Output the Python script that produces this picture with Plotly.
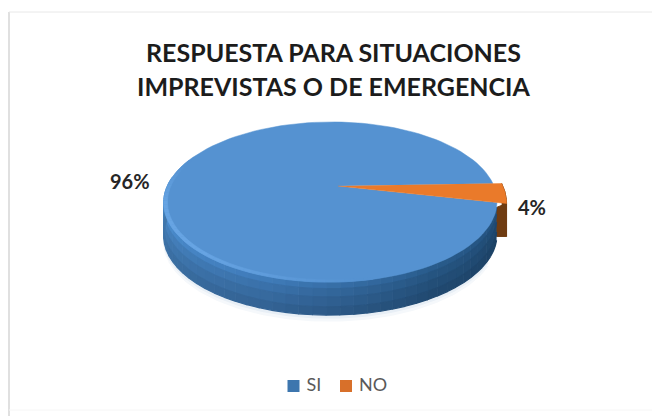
import math
import plotly.graph_objects as go

categories = ["SI", "NO"]
values = [96, 4]
title_lines = ["RESPUESTA PARA SITUACIONES", "IMPREVISTAS O DE EMERGENCIA"]

FACE = {"SI": "#5592d1", "NO": "#ea7a2a"}
LEGEND = {"SI": "#3d76ae", "NO": "#d8702a"}
FONT = "Lato"

# Projection of the unit disc onto the page (perspective tilt)
CX, CY = 338, 186
SX, SY = 163, 76.8
K, M = 0.2, 0.045
DEPTH = 33
ROTATION = 102.4
EXPLODE = 1.06

# Wall colour along the arc: angle clockwise from the top -> RGB
WALL_STOPS = [(102, (30, 70, 108)), (150, (36, 80, 122)), (200, (56, 108, 162)),
              (240, (64, 120, 176)), (276, (74, 134, 192))]
# Bands down the wall: top offset, bottom offset, brightness
BANDS = [(0.0, 0.2, 1.14), (0.2, 0.45, 1.05), (0.45, 0.75, 0.98), (0.75, 1.0, 0.92)]


def project(angle, r=1.0):
    a = math.radians(angle)
    X, Y = r * math.sin(a), r * math.cos(a)
    w = 1 + K * Y + M * X
    return CX + SX * X / w, CY - SY * Y / w


def arc(a0, a1, r=1.0, steps=120):
    pts = [project(a0 + (a1 - a0) * i / steps, r) for i in range(steps + 1)]
    return [p[0] for p in pts], [p[1] for p in pts]


def wall_color(angle):
    for (a0, c0), (a1, c1) in zip(WALL_STOPS, WALL_STOPS[1:]):
        if angle <= a1:
            t = max(0, (angle - a0) / (a1 - a0))
            return tuple(c0[i] + (c1[i] - c0[i]) * t for i in range(3))
    return WALL_STOPS[-1][1]


def rgb(c):
    return "rgb(%d,%d,%d)" % tuple(min(255, v) for v in c)


def poly(xs, ys, color, width=1):
    return go.Scatter(x=xs, y=ys, mode="lines", fill="toself", fillcolor=color,
                      line=dict(color=color, width=width), hoverinfo="skip", showlegend=False)


fig = go.Figure()

# Sweep of each slice, clockwise from the top
total = sum(values)
spans = {}
start = ROTATION
for name, v in zip(categories, values):
    spans[name] = (start, start + 360 * v / total)
    start += 360 * v / total
si0, si1 = spans["SI"]
no0, no1 = spans["NO"]

# Soft halo under the disc
for off, col in ((6, "#f5f8fb"), (3, "#e8eff6")):
    xs, ys = arc(120, 270, 1.0)
    fig.add_trace(poly(xs, [y + DEPTH + off for y in ys], col))

# Wall of the small slice, closed off flat underneath
WALL_JOIN = 106
xa, ya = arc(no0, no1, EXPLODE, 20)
xj, yj = project(WALL_JOIN, 1.0)
floor = ya[-1] + DEPTH
fig.add_trace(poly(xa + xa[::-1], ya + [y + DEPTH for y in ya[::-1]], "#6f3c12"))
fig.add_trace(poly([xa[-1], xj, xj, xa[-1]], [ya[-1], yj, floor, floor], "#6f3c12"))

# Curved wall of the large slice, in strips along the arc and bands down the wall
N = 44
a_start, a_end = WALL_JOIN, 276
for i in range(N):
    a0 = a_start + (a_end - a_start) * i / N
    a1 = a_start + (a_end - a_start) * (i + 1) / N
    base = wall_color((a0 + a1) / 2)
    xs, ys = arc(a0, a1, 1.0, 4)
    for b0, b1, gain in BANDS:
        top = [y + DEPTH * b0 for y in ys]
        bot = [y + DEPTH * b1 for y in ys]
        fig.add_trace(poly(xs + xs[::-1], top + bot[::-1], rgb(tuple(v * gain for v in base)), 1.2))

# Top faces
xs, ys = arc(si0, si1, 1.0)
fig.add_trace(poly(xs + [CX], ys + [CY], FACE["SI"], 0.5))

# Bevel along the near edge of the face, brightest towards the left
for i in range(N):
    a0 = 170 + (290 - 170) * i / N
    a1 = 170 + (290 - 170) * (i + 1) / N
    t = min(1, (a0 - 170) / 50) * min(1, (290 - a1) / 30)
    col = (85 + 18 * t, 146 + 18 * t, 209 + 18 * t)
    xo, yo = arc(a0, a1, 1.0, 3)
    xi, yi = arc(a0, a1, 0.98, 3)
    fig.add_trace(poly(xo + xi[::-1], yo + yi[::-1], rgb(col), 0.6))

xs, ys = arc(no0, no1, EXPLODE, 20)
fig.add_trace(poly(xs + [CX], ys + [CY], FACE["NO"], 0.5))

# Key below the disc, one swatch and name per category
key_pos = {"SI": (293.5, 386), "NO": (346, 386)}
for name in categories:
    fig.add_trace(go.Scatter(
        x=[key_pos[name][0]], y=[key_pos[name][1]], mode="markers+text", name=name,
        marker=dict(symbol="square", size=12, color=LEGEND[name]),
        text=[" " + name], textposition="middle right", hoverinfo="skip", showlegend=False,
        textfont=dict(family=FONT, size=18, color="#595959")))

# Value labels
label_pos = {"SI": (130, 181), "NO": (532, 207)}
for name, v in zip(categories, values):
    fig.add_annotation(x=label_pos[name][0], y=label_pos[name][1], text=f"<b>{v}%</b>", showarrow=False,
                       font=dict(family=FONT, size=20, color="#262626"))

for line, y in zip(title_lines, (52, 86)):
    fig.add_annotation(x=333.5, y=y, text=f"<b>{line}</b>", showarrow=False,
                       font=dict(family=FONT, size=25, color="#1c1c1c"))

# Sheet edges: left and top rules, faint bottom rule
frame = [
    dict(x0=9, y0=12, x1=9, y1=416, color="#e0e0e0", width=2),
    dict(x0=9, y0=12, x1=652, y1=12, color="#e8e8e8", width=1),
    dict(x0=9, y0=410, x1=652, y1=410, color="#f6f6f6", width=1),
]

fig.update_layout(
    width=652, height=416, margin=dict(l=0, r=0, t=0, b=0),
    paper_bgcolor="white", plot_bgcolor="white",
    xaxis=dict(range=[0, 652], visible=False, fixedrange=True),
    yaxis=dict(range=[416, 0], visible=False, fixedrange=True),
    showlegend=False,
    shapes=[dict(type="line", xref="x", yref="y", x0=f["x0"], y0=f["y0"], x1=f["x1"], y1=f["y1"],
                 line=dict(color=f["color"], width=f["width"]), layer="below") for f in frame],
)

fig.write_html("out.html", config={"displayModeBar": False})
